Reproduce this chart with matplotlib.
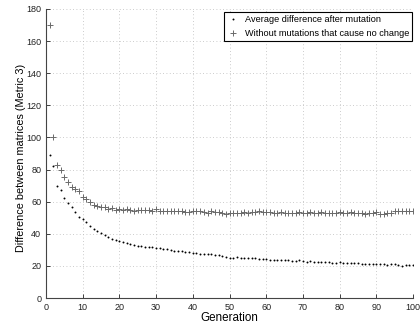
import matplotlib
matplotlib.use("Agg")
import matplotlib.pyplot as plt
import numpy as np

plt.rcParams['font.family'] = ['Liberation Sans', 'DejaVu Sans']

generations = list(range(1, 101))

avg_diff = [89, 82, 70, 67, 62, 59, 56.5, 53.5, 50.6, 49,
            47.5, 45, 43.2, 42, 40.7, 39.4, 38.2, 37, 36.1, 35.3,
            34.6, 34, 33.6, 33, 32.6, 32.3, 32, 31.8, 31.6, 31.2,
            31, 30.5, 30.3, 30, 29.6, 29.3, 29, 28.8, 28.4, 28.1,
            27.8, 27.6, 27.2, 27.4, 27.3, 27, 26.5, 26.1, 25.7, 25.1,
            25.2, 25.3, 25.0, 25.2, 24.8, 24.9, 24.7, 24.6, 24.2, 24.4,
            24.0, 23.9, 23.8, 23.9, 23.6, 23.5, 23.3, 23.2, 23.4, 22.9,
            22.7, 22.8, 22.5, 22.6, 22.4, 22.3, 22.5, 22.1, 22.0, 22.2,
            21.8, 21.9, 21.7, 21.6, 21.8, 21.4, 21.3, 21.5, 21.2, 21.0,
            21.1, 20.9, 20.8, 21.0, 20.9, 20.6, 20.2, 20.4, 20.3, 20.4]

without_nochange = [170, 100, 83, 80, 75.5, 72.2, 69.3, 68, 66.4, 63,
                    61.5, 59.8, 57.7, 57.3, 56.5, 56.5, 55.6, 55.8, 54.8, 55.4,
                    54.8, 55.2, 54.8, 54.3, 54.9, 54.6, 55.1, 54.7, 54.5, 55.3,
                    54.2, 54.5, 54.4, 54.2, 54.3, 54.1, 54.2, 53.6, 53.3, 54.0,
                    54.1, 54.2, 53.8, 53.1, 53.9, 53.7, 53.5, 52.8, 52.6, 52.9,
                    53.0, 53.2, 53.1, 53.3, 53.2, 53.4, 53.6, 54.3, 53.5, 53.3,
                    53.4, 53.2, 53.1, 53.8, 53.0, 52.8, 53.2, 53.1, 53.5, 53.2,
                    53.0, 53.3, 53.1, 53.2, 53.4, 53.0, 53.2, 53.1, 52.8, 53.6,
                    53.2, 53.0, 53.3, 53.1, 53.2, 53.0, 52.5, 53.0, 53.1, 53.3,
                    52.3, 52.6, 53.0, 53.1, 54.2, 54.5, 54.0, 53.9, 54.1, 54.0]

xticks = [0, 10, 20, 30, 40, 50, 60, 70, 80, 90, 100]
yticks = [0, 20, 40, 60, 80, 100, 120, 140, 160, 180]

fig = plt.figure(figsize=(4.2, 3.29), dpi=100)
ax = fig.add_axes([0.1095, 0.094, 0.874, 0.879])

ax.plot(generations, avg_diff, linestyle='none', marker='o', color='black',
        markersize=1.4, markeredgewidth=0, label='Average difference after mutation')
ax.plot(generations, without_nochange, linestyle='none', marker='+', color='#6a6a6a',
        markersize=4.2, markeredgewidth=0.7, label='Without mutations that cause no change')

ax.set_xlim(0, 100)
ax.set_ylim(0, 180)
ax.set_xticks(xticks)
ax.set_yticks(yticks)
ax.tick_params(direction='in', labelsize=6.5, length=3, width=0.6, colors='#222222')
ax.grid(True, linestyle=(0, (1, 3)), color='#bbbbbb', linewidth=0.6)
ax.spines['top'].set_visible(False)
ax.spines['right'].set_visible(False)
for s in ('left', 'bottom'):
    ax.spines[s].set_color('#444444')
    ax.spines[s].set_linewidth(0.8)

ax.set_xlabel('Generation', fontsize=8.4)
ax.xaxis.set_label_coords(0.5, -0.048)
ax.xaxis.label.set_verticalalignment('top')
ax.set_ylabel('Difference between matrices (Metric 3)', fontsize=7.8)
ax.yaxis.set_label_coords(-0.054, 0.484)

leg = ax.legend(loc='upper right', fontsize=6.6, frameon=True, fancybox=False,
                edgecolor='black', framealpha=1, handlelength=1.2, handletextpad=0.7,
                borderpad=0.35, labelspacing=0.55, borderaxespad=0,
                bbox_to_anchor=(0.998, 0.99))
leg.get_frame().set_linewidth(0.8)

fig.savefig('out.png', dpi=100)
